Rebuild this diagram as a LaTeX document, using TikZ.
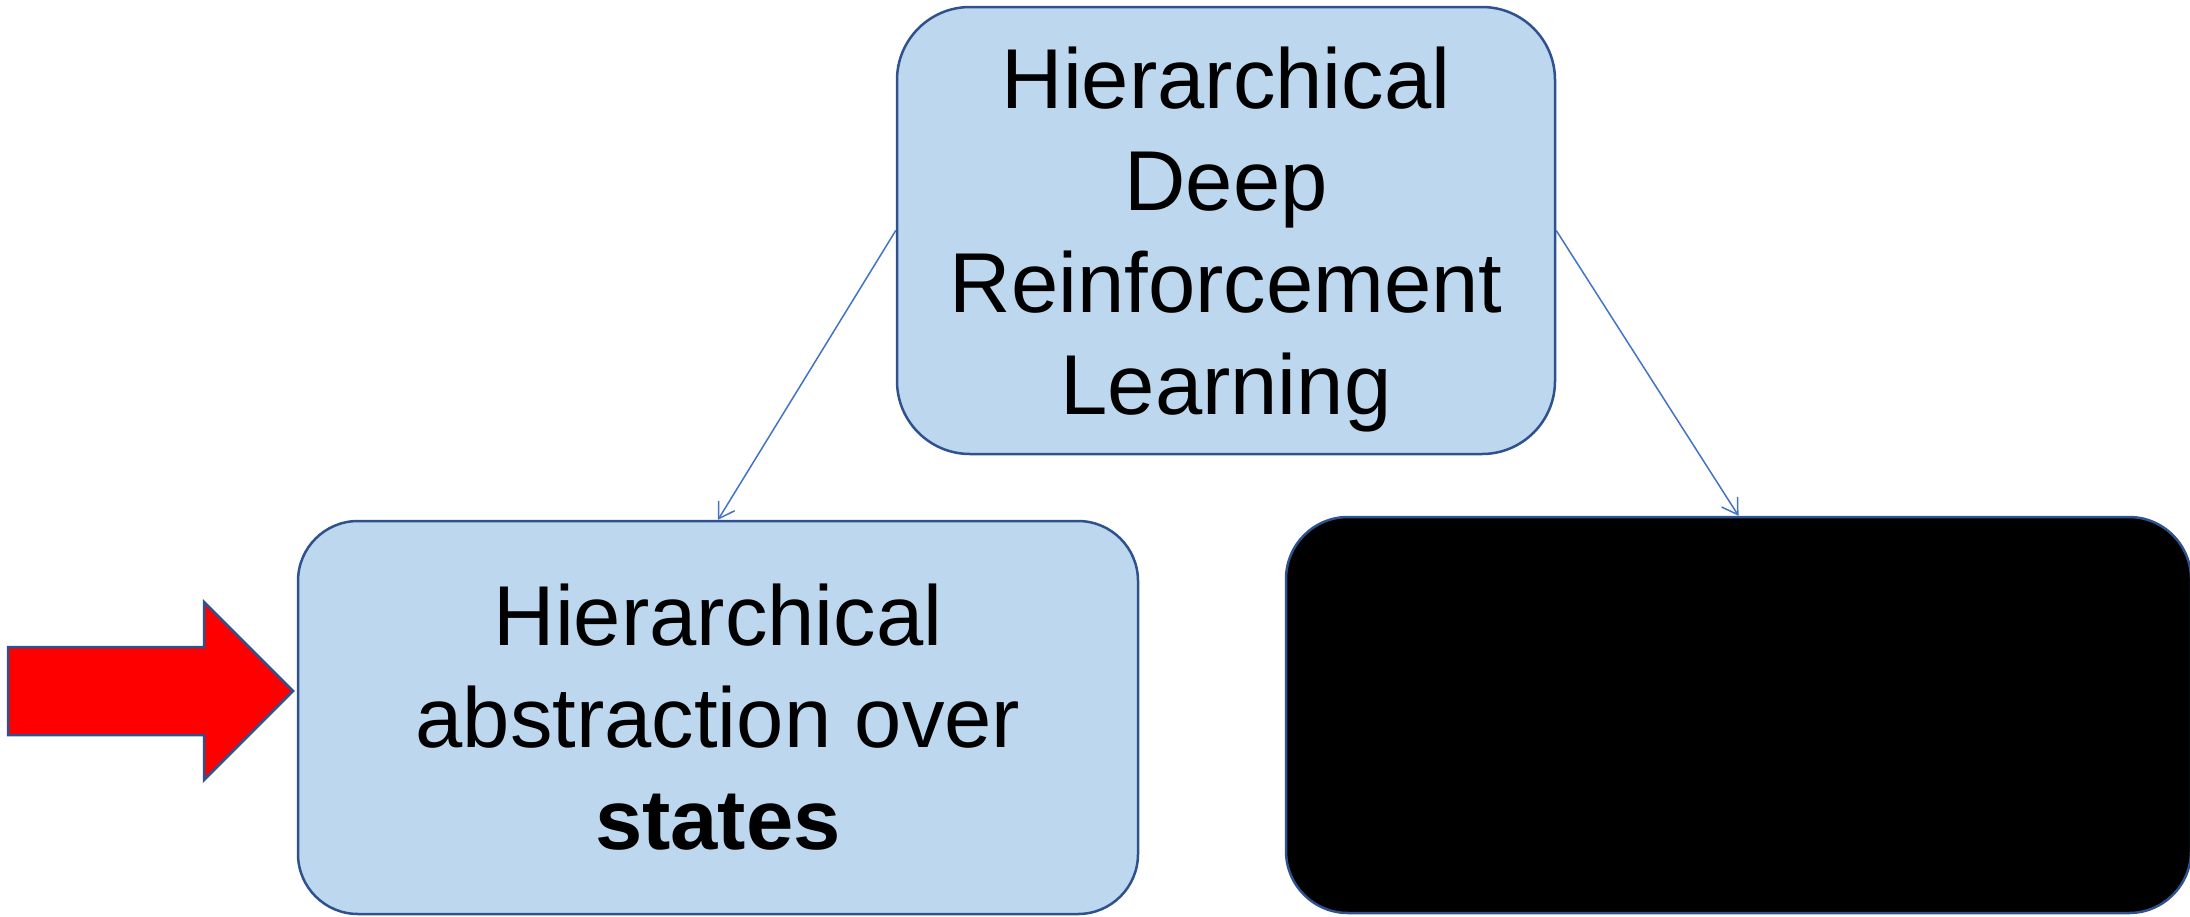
\documentclass[tikz,border=0pt]{standalone}
\usepackage{fontspec}
\setmainfont{Liberation Sans}
\usetikzlibrary{arrows.meta}
\definecolor{boxfill}{HTML}{BDD7EE}
\definecolor{boxline}{HTML}{2F528F}
\definecolor{connline}{HTML}{4472C4}
\begin{document}
\begin{tikzpicture}[x=1pt,y=-1pt,
  bluebox/.style={rectangle, draw=boxline, line width=2.5pt, fill=boxfill, inner sep=0pt},
  blackbox/.style={rectangle, draw=boxline, line width=2.5pt, fill=black, inner sep=0pt},
  boxtext/.style={inner sep=0pt, align=center, font=\fontsize{85}{102}\selectfont},
  connector/.style={draw=connline, line width=1.5pt, -{Straight Barb[length=15pt,width=19pt]}},
  redarrow/.style={draw=boxline, line width=2.5pt, fill=red, line join=miter}
]
\useasboundingbox (0,0) rectangle (2190,916);

\node[bluebox, rounded corners=73pt, minimum width=658pt, minimum height=447pt] (top) at (1226,230.5) {};
\node[bluebox, rounded corners=60pt, minimum width=840pt, minimum height=393pt] (left) at (718,717.5) {};
\node[blackbox, rounded corners=62pt, minimum width=905pt, minimum height=396pt] (right) at (1738.5,715) {};

\node[boxtext, yshift=-9pt] (toptext) at (top.center) {Hierarchical\\Deep\\Reinforcement\\Learning};
\node[boxtext] (lefttext) at (left.center) {Hierarchical\\abstraction over\\\textbf{states}};

\draw[connector] (top.west) -- (left.north);
\draw[connector] (top.east) -- (right.north);

\draw[redarrow] (8,647) -- (204,647) -- (204,602) -- (293,691) -- (204,780) -- (204,735) -- (8,735) -- cycle;
\end{tikzpicture}
\end{document}
